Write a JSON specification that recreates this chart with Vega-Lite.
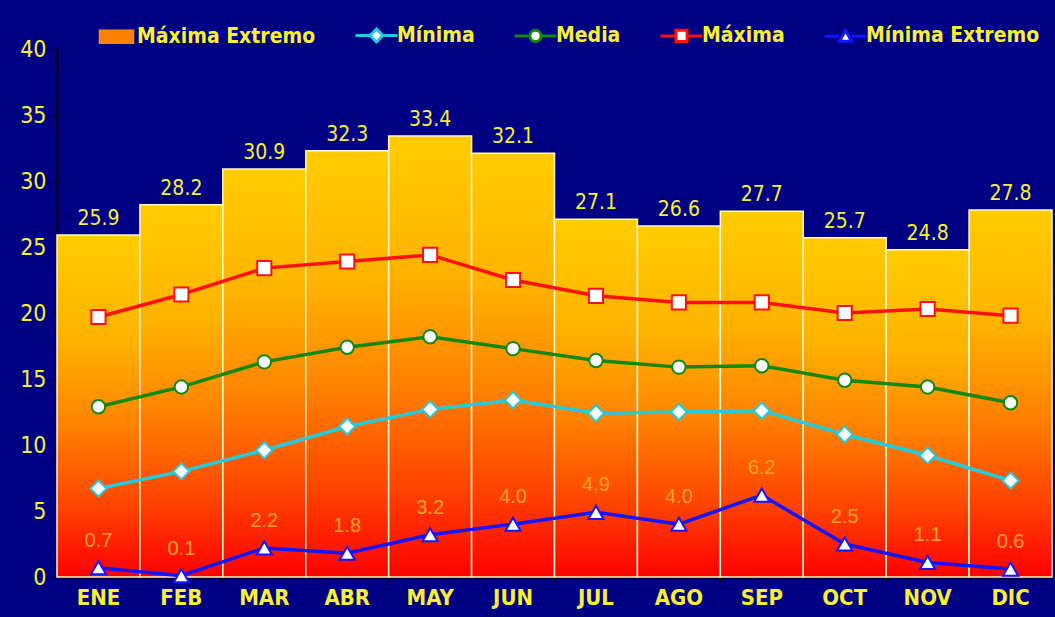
{
  "$schema": "https://vega.github.io/schema/vega-lite/v6.json",
  "width": 995,
  "height": 528,
  "autosize": {"type": "none"},
  "padding": {"left": 57, "top": 49, "right": 3, "bottom": 40},
  "background": "#000085",
  "config": {
    "view": {"stroke": null},
    "font": "DejaVu Sans Condensed, sans-serif"
  },
  "data": {
    "values": [
      {"mes": "ENE", "serie": "Máxima Extremo", "valor": 25.9},
      {"mes": "FEB", "serie": "Máxima Extremo", "valor": 28.2},
      {"mes": "MAR", "serie": "Máxima Extremo", "valor": 30.9},
      {"mes": "ABR", "serie": "Máxima Extremo", "valor": 32.3},
      {"mes": "MAY", "serie": "Máxima Extremo", "valor": 33.4},
      {"mes": "JUN", "serie": "Máxima Extremo", "valor": 32.1},
      {"mes": "JUL", "serie": "Máxima Extremo", "valor": 27.1},
      {"mes": "AGO", "serie": "Máxima Extremo", "valor": 26.6},
      {"mes": "SEP", "serie": "Máxima Extremo", "valor": 27.7},
      {"mes": "OCT", "serie": "Máxima Extremo", "valor": 25.7},
      {"mes": "NOV", "serie": "Máxima Extremo", "valor": 24.8},
      {"mes": "DIC", "serie": "Máxima Extremo", "valor": 27.8},
      {"mes": "ENE", "serie": "Máxima", "valor": 19.7},
      {"mes": "FEB", "serie": "Máxima", "valor": 21.4},
      {"mes": "MAR", "serie": "Máxima", "valor": 23.4},
      {"mes": "ABR", "serie": "Máxima", "valor": 23.9},
      {"mes": "MAY", "serie": "Máxima", "valor": 24.4},
      {"mes": "JUN", "serie": "Máxima", "valor": 22.5},
      {"mes": "JUL", "serie": "Máxima", "valor": 21.3},
      {"mes": "AGO", "serie": "Máxima", "valor": 20.8},
      {"mes": "SEP", "serie": "Máxima", "valor": 20.8},
      {"mes": "OCT", "serie": "Máxima", "valor": 20.0},
      {"mes": "NOV", "serie": "Máxima", "valor": 20.3},
      {"mes": "DIC", "serie": "Máxima", "valor": 19.8},
      {"mes": "ENE", "serie": "Media", "valor": 12.9},
      {"mes": "FEB", "serie": "Media", "valor": 14.4},
      {"mes": "MAR", "serie": "Media", "valor": 16.3},
      {"mes": "ABR", "serie": "Media", "valor": 17.4},
      {"mes": "MAY", "serie": "Media", "valor": 18.2},
      {"mes": "JUN", "serie": "Media", "valor": 17.3},
      {"mes": "JUL", "serie": "Media", "valor": 16.4},
      {"mes": "AGO", "serie": "Media", "valor": 15.9},
      {"mes": "SEP", "serie": "Media", "valor": 16.0},
      {"mes": "OCT", "serie": "Media", "valor": 14.9},
      {"mes": "NOV", "serie": "Media", "valor": 14.4},
      {"mes": "DIC", "serie": "Media", "valor": 13.2},
      {"mes": "ENE", "serie": "Mínima", "valor": 6.7},
      {"mes": "FEB", "serie": "Mínima", "valor": 8.0},
      {"mes": "MAR", "serie": "Mínima", "valor": 9.6},
      {"mes": "ABR", "serie": "Mínima", "valor": 11.4},
      {"mes": "MAY", "serie": "Mínima", "valor": 12.7},
      {"mes": "JUN", "serie": "Mínima", "valor": 13.4},
      {"mes": "JUL", "serie": "Mínima", "valor": 12.4},
      {"mes": "AGO", "serie": "Mínima", "valor": 12.5},
      {"mes": "SEP", "serie": "Mínima", "valor": 12.6},
      {"mes": "OCT", "serie": "Mínima", "valor": 10.8},
      {"mes": "NOV", "serie": "Mínima", "valor": 9.2},
      {"mes": "DIC", "serie": "Mínima", "valor": 7.3},
      {"mes": "ENE", "serie": "Mínima Extremo", "valor": 0.7},
      {"mes": "FEB", "serie": "Mínima Extremo", "valor": 0.1},
      {"mes": "MAR", "serie": "Mínima Extremo", "valor": 2.2},
      {"mes": "ABR", "serie": "Mínima Extremo", "valor": 1.8},
      {"mes": "MAY", "serie": "Mínima Extremo", "valor": 3.2},
      {"mes": "JUN", "serie": "Mínima Extremo", "valor": 4.0},
      {"mes": "JUL", "serie": "Mínima Extremo", "valor": 4.9},
      {"mes": "AGO", "serie": "Mínima Extremo", "valor": 4.0},
      {"mes": "SEP", "serie": "Mínima Extremo", "valor": 6.2},
      {"mes": "OCT", "serie": "Mínima Extremo", "valor": 2.5},
      {"mes": "NOV", "serie": "Mínima Extremo", "valor": 1.1},
      {"mes": "DIC", "serie": "Mínima Extremo", "valor": 0.6}
    ]
  },
  "encoding": {
    "x": {
      "field": "mes",
      "type": "nominal",
      "sort": ["ENE", "FEB", "MAR", "ABR", "MAY", "JUN", "JUL", "AGO", "SEP", "OCT", "NOV", "DIC"],
      "scale": {"paddingInner": 0, "paddingOuter": 0},
      "axis": {
        "title": null,
        "labelAngle": 0,
        "labelColor": "#f8f030",
        "labelFont": "DejaVu Sans Condensed, sans-serif",
        "labelFontWeight": "bold",
        "labelFontSize": 22,
        "labelPadding": 5,
        "bandPosition": 0,
        "tickColor": "#000000",
        "tickSize": 5,
        "domainColor": "#000000",
        "domainWidth": 2
      }
    }
  },
  "layer": [
    {
      "transform": [{"filter": "datum.serie === 'Máxima Extremo'"}],
      "mark": {
        "type": "bar",
        "stroke": "#fff8d0",
        "strokeWidth": 1.5,
        "fill": {
          "gradient": "linear",
          "x1": 0, "y1": 0, "x2": 0, "y2": 1,
          "stops": [
            {"offset": 0, "color": "#ffcc00"},
            {"offset": 0.3, "color": "#ffb400"},
            {"offset": 0.55, "color": "#ff8400"},
            {"offset": 0.8, "color": "#ff4200"},
            {"offset": 1, "color": "#ff0000"}
          ]
        }
      },
      "encoding": {
        "y": {
          "field": "valor",
          "type": "quantitative",
          "scale": {"domain": [0, 40], "nice": false},
          "axis": {
            "title": null,
            "values": [0, 5, 10, 15, 20, 25, 30, 35, 40],
            "grid": false,
            "labelColor": "#f8f030",
            "labelFont": "DejaVu Sans Condensed, sans-serif",
            "labelFontSize": 23,
            "labelPadding": 6,
            "tickColor": "#000000",
            "tickSize": 5,
            "domainColor": "#000000",
            "domainWidth": 2
          }
        }
      }
    },
    {
      "transform": [{"filter": "datum.serie === 'Máxima Extremo'"}],
      "mark": {
        "type": "text",
        "baseline": "alphabetic",
        "dy": -10,
        "fontSize": 21,
        "color": "#f8f030",
        "font": "DejaVu Sans Condensed, sans-serif"
      },
      "encoding": {
        "y": {"field": "valor", "type": "quantitative"},
        "text": {"field": "valor", "type": "quantitative", "format": ".1f"}
      }
    },
    {
      "transform": [{"filter": "datum.serie !== 'Máxima Extremo'"}],
      "mark": {"type": "line", "strokeWidth": 3.5},
      "encoding": {
        "y": {"field": "valor", "type": "quantitative"},
        "color": {
          "field": "serie",
          "type": "nominal",
          "scale": {
            "domain": ["Máxima Extremo", "Mínima", "Media", "Máxima", "Mínima Extremo"],
            "range": ["#ff8800", "#22ccdd", "#118811", "#ff1010", "#1414ff"]
          },
          "legend": {
            "title": null,
            "orient": "none",
            "direction": "horizontal",
            "legendX": 49,
            "legendY": -24,
            "symbolSize": 1600,
            "symbolStrokeWidth": 3,
            "labelColor": "#f8f030",
            "labelFont": "DejaVu Sans Condensed, sans-serif",
            "labelFontWeight": "bold",
            "labelFontSize": 21,
            "labelLimit": 0,
            "labelOffset": 10,
            "columnPadding": 33,
            "encode": {
              "symbols": {
                "update": {
                  "shape": {"signal": "datum.value === 'Máxima Extremo' ? 'M-0.85,-0.32H0.85V0.32H-0.85Z' : datum.value === 'Mínima' ? 'M-1.05,0H-0.32M0.32,0H1.05M0,-0.32L0.32,0L0,0.32L-0.32,0Z' : datum.value === 'Media' ? 'M-1.05,0H-0.28M0.28,0H1.05M-0.28,0A0.28,0.28 0 1,0 0.28,0A0.28,0.28 0 1,0 -0.28,0Z' : datum.value === 'Máxima' ? 'M-1.05,0H-0.28M0.28,0H1.05M-0.28,-0.28H0.28V0.28H-0.28Z' : 'M-1.05,0H-0.3M0.3,0H1.05M0,-0.3L0.3,0.24H-0.3Z'"},
                  "fill": {"signal": "datum.value === 'Máxima Extremo' ? '#ff8000' : '#ffffff'"},
                  "stroke": {"signal": "datum.value === 'Máxima Extremo' ? '#ffc080' : scale('color', datum.value)"},
                  "strokeWidth": {"signal": "datum.value === 'Máxima Extremo' ? 1.5 : 3"},
                  "opacity": {"value": 1}
                }
              }
            }
          }
        }
      }
    },
    {
      "transform": [{"filter": "datum.serie === 'Máxima'"}],
      "mark": {"type": "point", "shape": "square", "filled": false, "fill": "#ffffff", "fillOpacity": 1, "opacity": 1, "strokeWidth": 2, "size": 200},
      "encoding": {
        "y": {"field": "valor", "type": "quantitative"},
        "color": {"field": "serie", "type": "nominal", "legend": null}
      }
    },
    {
      "transform": [{"filter": "datum.serie === 'Media'"}],
      "mark": {"type": "point", "shape": "circle", "filled": false, "fill": "#ffffff", "fillOpacity": 1, "opacity": 1, "strokeWidth": 2, "size": 180},
      "encoding": {
        "y": {"field": "valor", "type": "quantitative"},
        "color": {"field": "serie", "type": "nominal", "legend": null}
      }
    },
    {
      "transform": [{"filter": "datum.serie === 'Mínima'"}],
      "mark": {"type": "point", "shape": "diamond", "filled": false, "fill": "#ffffff", "fillOpacity": 1, "opacity": 1, "strokeWidth": 2, "size": 260},
      "encoding": {
        "y": {"field": "valor", "type": "quantitative"},
        "color": {"field": "serie", "type": "nominal", "legend": null}
      }
    },
    {
      "transform": [{"filter": "datum.serie === 'Mínima Extremo'"}],
      "mark": {"type": "point", "shape": "triangle-up", "filled": false, "fill": "#ffffff", "fillOpacity": 1, "opacity": 1, "strokeWidth": 2, "size": 230},
      "encoding": {
        "y": {"field": "valor", "type": "quantitative"},
        "color": {"field": "serie", "type": "nominal", "legend": null}
      }
    },
    {
      "transform": [{"filter": "datum.serie === 'Mínima Extremo'"}],
      "mark": {
        "type": "text",
        "baseline": "alphabetic",
        "dy": -21,
        "fontSize": 20,
        "color": "#ffa020",
        "font": "Liberation Sans, Arial, sans-serif"
      },
      "encoding": {
        "y": {"field": "valor", "type": "quantitative"},
        "text": {"field": "valor", "type": "quantitative", "format": ".1f"}
      }
    }
  ]
}
